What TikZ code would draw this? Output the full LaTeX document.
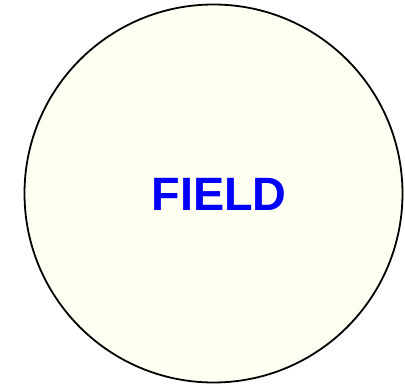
\documentclass[tikz,border=0pt]{standalone}
\usepackage{fontspec}
\setmainfont{Liberation Sans}
\definecolor{fieldfill}{RGB}{255,255,244}
\definecolor{fieldblue}{RGB}{0,0,255}
\tikzset{
  fieldcircle/.style={circle, draw=black, line width=1.8pt, fill=fieldfill, minimum size=378pt, inner sep=0pt},
  fieldlabel/.style={text=fieldblue, font=\fontsize{46.8}{50}\selectfont\bfseries, inner sep=0pt}
}
\begin{document}
\begin{tikzpicture}[x=1pt,y=-1pt]
\useasboundingbox (0,0) rectangle (405,387);
\node[fieldcircle] (circ) at (213.5,193.5) {};
\node[fieldlabel, anchor=base] (lbl) at (219,210.7) {FIELD};
\end{tikzpicture}
\end{document}
